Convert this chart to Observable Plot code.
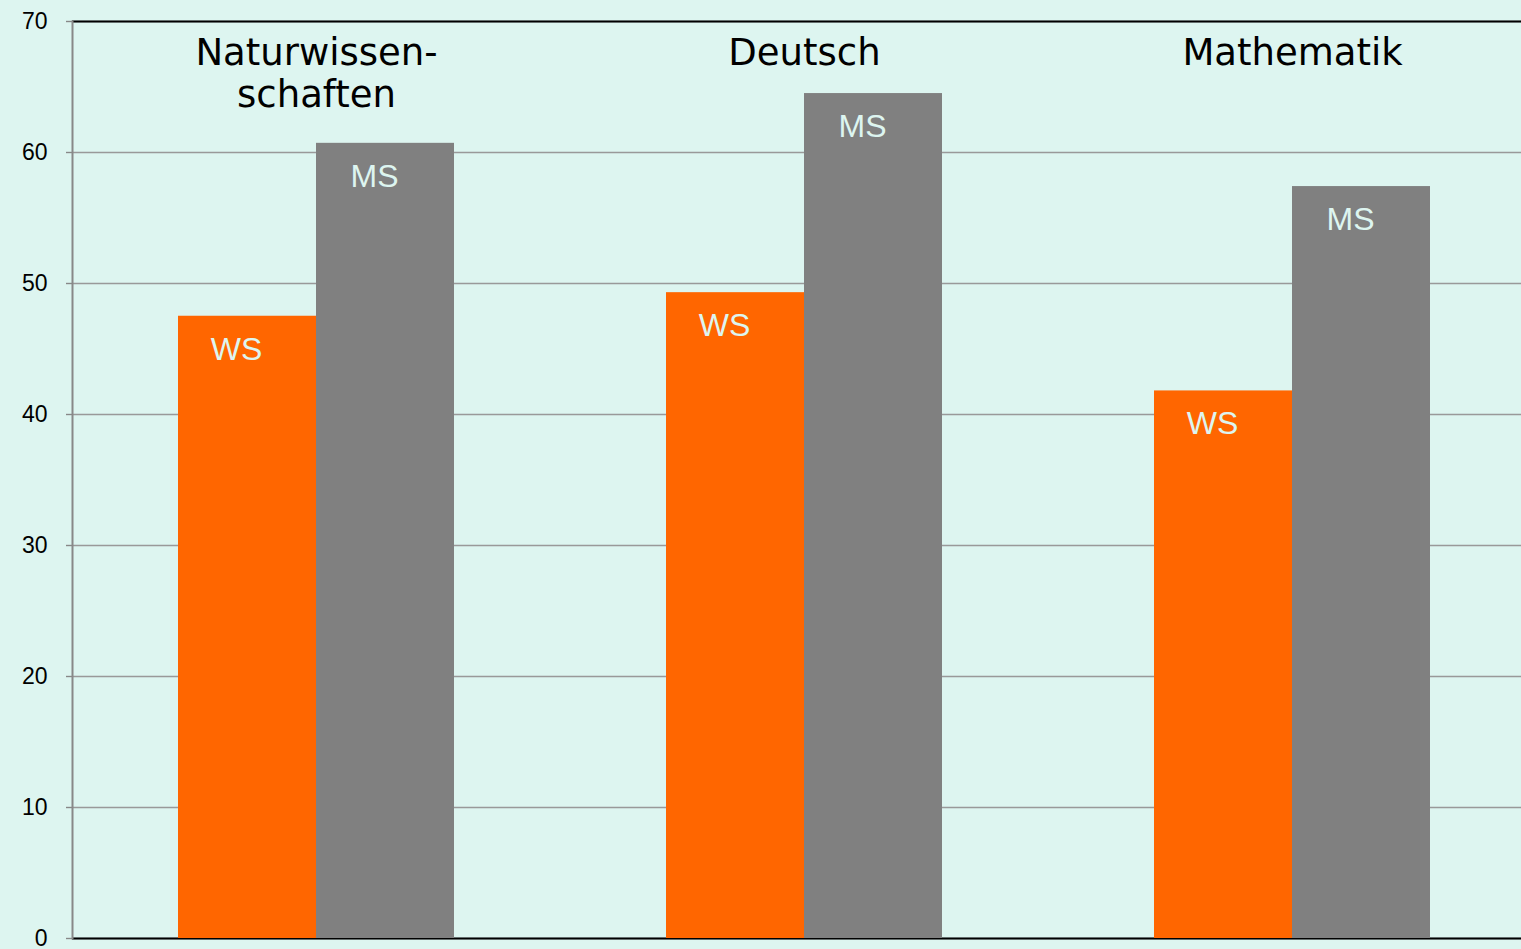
<!DOCTYPE html>
<html>
<head>
<meta charset="utf-8">
<script src="https://cdn.jsdelivr.net/npm/d3@7"></script>
<script src="https://cdn.jsdelivr.net/npm/@observablehq/plot@0.6"></script>
<style>
  html, body { margin: 0; padding: 0; overflow: hidden; background: #ddf5f0; }
  #chart { width: 1521px; height: 949px; overflow: hidden; }
  #chart svg { display: block; max-width: none !important; width: 1536px !important; height: 949px !important; }
</style>
</head>
<body>
<div id="chart"></div>
<script>
const subjects = ["Naturwissen-\nschaften", "Deutsch", "Mathematik"];
const series = ["WS", "MS"];
const wsValues = [47.5, 49.3, 41.8];
const msValues = [60.7, 64.5, 57.4];
const yTicks = [0, 10, 20, 30, 40, 50, 60, 70];

const table = subjects.flatMap((s, i) => [
  {subject: s, series: "WS", value: wsValues[i]},
  {subject: s, series: "MS", value: msValues[i]}
]);

const chart = Plot.plot({
  width: 1536,
  height: 949,
  marginLeft: 72,
  marginRight: 0,
  marginTop: 21,
  marginBottom: 11,
  style: {background: "transparent", fontFamily: "'Liberation Sans', Arial, sans-serif", overflow: "visible"},
  fx: {domain: subjects, paddingInner: 0, paddingOuter: 0, axis: null},
  x: {domain: series, paddingInner: 0, paddingOuter: 0.7554, axis: null},
  y: {domain: [0, 70], axis: null},
  color: {domain: series, range: ["#ff6600", "#808080"]},
  marks: [
    Plot.gridY(yTicks, {stroke: "#999", strokeOpacity: 1, strokeWidth: 1.4}),
    Plot.ruleY([70], {stroke: "#000", strokeWidth: 2}),
    Plot.ruleY([0], {stroke: "#000", strokeWidth: 2}),
    Plot.barY(table, {fx: "subject", x: "series", y: "value", fill: "series"}),
    Plot.text(table, {fx: "subject", x: "series", y: "value", text: "series", dy: 33, dx: -11, fill: "#ddf5f0", fontSize: 32}),
    Plot.text(subjects, {fx: d => d, text: d => d, frameAnchor: "top", lineAnchor: "top", dy: 14, fontSize: 37, fontFamily: "'DejaVu Sans', sans-serif", lineHeight: 1.13, fill: "#000"}),
    Plot.axisY(yTicks, {tickSize: 6, tickPadding: 19, stroke: "#888", fill: "#000", fontSize: 23, label: null, strokeWidth: 1.4}),
    Plot.frame({anchor: "left", stroke: "#888", strokeWidth: 2, facetAnchor: "left"})
  ]
});
document.getElementById("chart").appendChild(chart);
</script>
</body>
</html>
